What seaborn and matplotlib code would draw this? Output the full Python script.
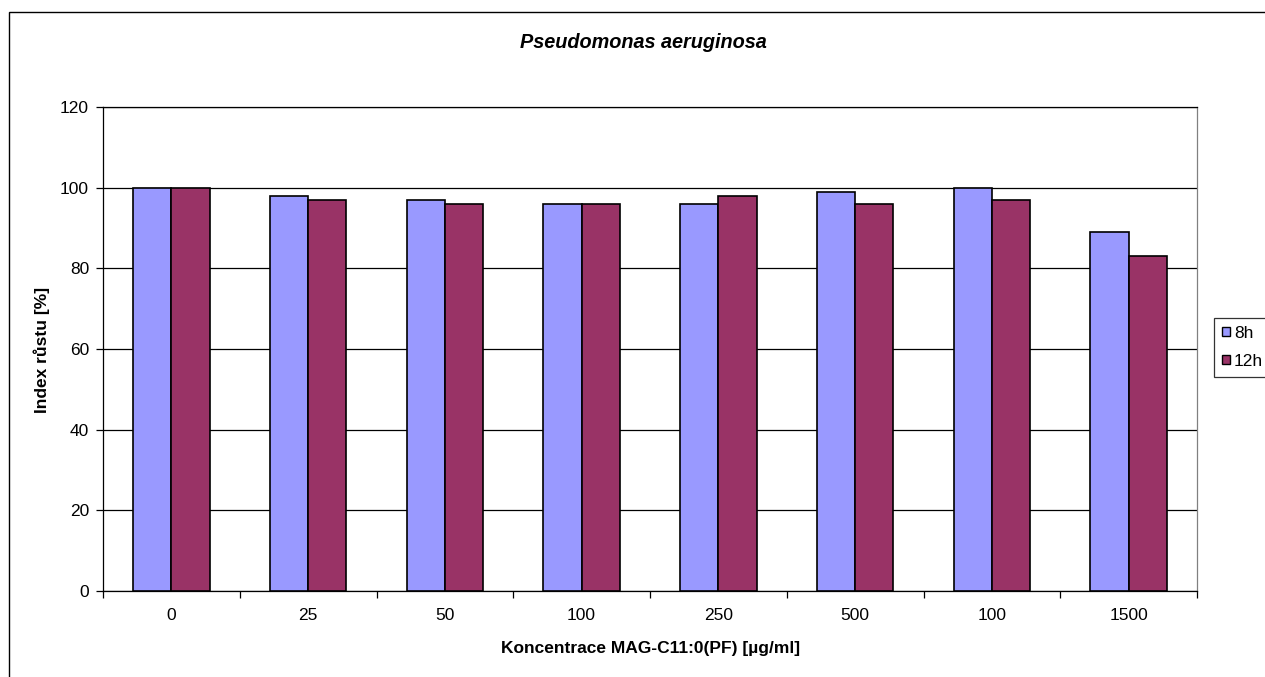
import matplotlib
matplotlib.use("Agg")
import matplotlib.pyplot as plt
import matplotlib.patches as mpatches
import seaborn as sns
import pandas as pd
import numpy as np

categories = ["0", "25", "50", "100", "250", "500", "100", "1500"]
vals_8h = [100, 98, 97, 96, 96, 99, 100, 89]
vals_12h = [100, 97, 96, 96, 98, 96, 97, 83]
series = ["8h", "12h"]
colors = ["#9999FF", "#993366"]

sns.set_theme(style="white")
plt.rcParams['font.family'] = ['Liberation Sans', 'DejaVu Sans']
plt.rcParams['text.color'] = 'black'
plt.rcParams['axes.labelcolor'] = 'black'
plt.rcParams['xtick.color'] = 'black'
plt.rcParams['ytick.color'] = 'black'

rows = []
for i in range(len(categories)):
    rows.append({"pos": i, "serie": "8h", "val": vals_8h[i]})
    rows.append({"pos": i, "serie": "12h", "val": vals_12h[i]})
df = pd.DataFrame(rows)

fig = plt.figure(figsize=(12.65, 6.77), dpi=100)
ax = fig.add_axes([103/1265, 86/677, (1197-103)/1265, (591-107)/677])

sns.barplot(data=df, x="pos", y="val", hue="serie", order=list(range(len(categories))),
            hue_order=series, palette=colors, width=0.56, dodge=True,
            edgecolor="black", linewidth=1.2, saturation=1, ax=ax, legend=False, zorder=3)

ax.set_xlim(-0.5, len(categories) - 0.5)
ax.set_ylim(0, 120)
ax.set_yticks(np.arange(0, 121, 20))
ax.yaxis.grid(True, color="black", linewidth=0.9, zorder=0)
ax.set_axisbelow(True)

fs = 12.5
ax.set_xticks(range(len(categories)))
ax.set_xticklabels(categories)
ax.set_xticks(np.arange(-0.5, len(categories), 1.0), minor=True)
ax.tick_params(axis="x", which="major", length=0, pad=12, labelsize=fs, colors="black")
ax.tick_params(axis="x", which="minor", length=5, width=0.9, color="black", direction="out")
ax.tick_params(axis="y", which="major", length=5, width=0.9, color="black", direction="out",
               labelsize=fs, labelcolor="black", pad=5)
ax.tick_params(axis="x", bottom=True, which="both")
ax.tick_params(axis="y", left=True)

for s in ["left", "bottom", "top"]:
    ax.spines[s].set_color("black")
    ax.spines[s].set_linewidth(0.9)
ax.spines["right"].set_color("#808080")
ax.spines["right"].set_linewidth(0.9)

ax.set_xlabel("Koncentrace MAG-C11:0(PF) [µg/ml]", fontsize=fs, fontweight="bold", labelpad=12)
ax.set_ylabel("Index růstu [%]", fontsize=fs, fontweight="bold", labelpad=14)
ax.xaxis.set_label_coords(651/1265, 1 - 648/677, transform=fig.transFigure)
ax.yaxis.set_label_coords(42/1265, 1 - 350/677, transform=fig.transFigure)
ax.xaxis.label.set_va("center")
ax.yaxis.label.set_va("center")

fig.text(643/1265, 1 - 42/677, "Pseudomonas aeruginosa", ha="center", va="center",
         fontsize=14.3, fontweight="bold", fontstyle="italic", color="black")

# outer chart border
border = mpatches.Rectangle((9/1265, -0.05), 1.1, 1 - 12/677 + 0.05, transform=fig.transFigure,
                            fill=False, edgecolor="black", linewidth=1.0, clip_on=False)
fig.patches.append(border)

handles = [mpatches.Patch(facecolor=c, edgecolor="black", linewidth=1.0, label=s)
           for c, s in zip(colors, series)]
leg = fig.legend(handles=handles, loc="upper left", bbox_to_anchor=(1214/1265, 1 - 318/677),
                 frameon=True, fancybox=False, edgecolor="black", fontsize=fs,
                 handlelength=0.45, handleheight=0.45, handletextpad=0.25, borderpad=0.45,
                 labelspacing=0.75, borderaxespad=0)
leg.get_frame().set_linewidth(0.9)

fig.savefig("out.png", dpi=100)
